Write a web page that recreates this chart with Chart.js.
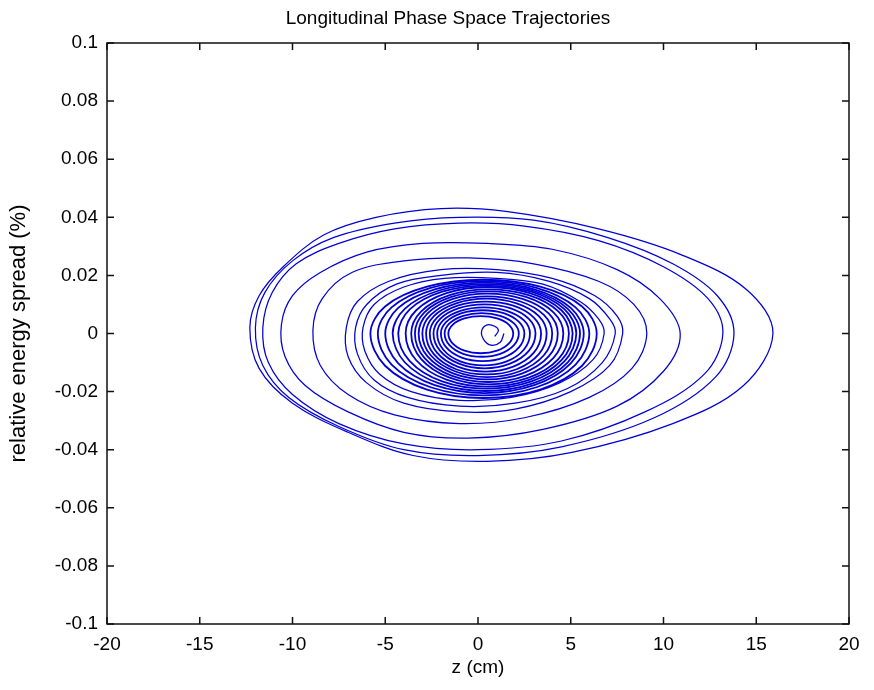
<!DOCTYPE html>
<html lang="en">
<head>
    <meta charset="UTF-8">
    <title>Longitudinal Phase Space Trajectories</title>
    <script src="https://cdn.jsdelivr.net/npm/chart.js"></script>
    <style>
        html, body { margin: 0; padding: 0; background: #fff; }
        #wrap { width: 874px; height: 690px; }
    </style>
</head>
<body>
<div id="wrap"><canvas id="phase"></canvas></div>
<script>
    // Text
    const chartTitle = 'Longitudinal Phase Space Trajectories';
    const xLabel = 'z (cm)';
    const yLabel = 'relative energy spread (%)';

    // Axis ranges and tick steps
    const xRange = [-20, 20];
    const xStep = 5;
    const yRange = [-0.1, 0.1];
    const yStep = 0.02;

    // Trajectory loops, [z (cm), delta (%)], outermost first
    const loop1 = [[15.9, 0.000], [14.3, -0.018], [10.5, -0.031], [5.0, -0.041], [0.5, -0.044], [-3.5, -0.042], [-7.0, -0.034], [-10.0, -0.024], [-11.8, -0.012], [-12.3, 0.002], [-11.8, 0.013], [-10.5, 0.023], [-8.3, 0.034], [-5.5, 0.040], [-2.0, 0.043], [1.5, 0.042], [6.5, 0.036], [11.0, 0.027], [14.5, 0.015]];
    const loop2 = [[13.8, 0.000], [12.8, -0.015], [9.5, -0.029], [4.5, -0.039], [0.0, -0.042], [-4.0, -0.040], [-7.5, -0.032], [-10.2, -0.022], [-11.6, -0.011], [-12.0, 0.002], [-11.5, 0.014], [-10.0, 0.025], [-7.8, 0.033], [-4.5, 0.038], [-1.0, 0.040], [3.0, 0.039], [7.0, 0.033], [10.5, 0.024], [12.9, 0.013]];
    const loop3 = [[13.2, 0.000], [12.2, -0.014], [9.0, -0.027], [4.5, -0.037], [0.0, -0.040], [-4.0, -0.038], [-7.5, -0.031], [-10.0, -0.021], [-11.3, -0.010], [-11.6, 0.002], [-11.1, 0.014], [-9.8, 0.024], [-7.5, 0.031], [-4.5, 0.036], [-1.0, 0.038], [2.5, 0.037], [6.5, 0.032], [10.0, 0.023], [12.4, 0.012]];
    const loop4 = [[10.9, 0.000], [10.0, -0.013], [7.5, -0.025], [3.5, -0.033], [-0.5, -0.036], [-4.0, -0.034], [-7.0, -0.027], [-9.3, -0.018], [-10.4, -0.008], [-10.6, 0.003], [-10.0, 0.013], [-8.5, 0.021], [-6.0, 0.028], [-3.0, 0.031], [0.5, 0.031], [4.0, 0.029], [7.5, 0.022], [9.8, 0.012]];
    const loop5 = [[9.1, 0.000], [8.3, -0.012], [6.0, -0.022], [2.5, -0.029], [-1.0, -0.031], [-4.5, -0.028], [-7.0, -0.021], [-8.5, -0.011], [-8.9, 0.001], [-8.4, 0.012], [-6.8, 0.021], [-4.0, 0.025], [-0.5, 0.026], [3.0, 0.024], [6.5, 0.018], [8.4, 0.010]];
    const loop6 = [[7.8, 0.000], [7.1, -0.011], [5.0, -0.020], [2.0, -0.026], [-1.0, -0.027], [-4.0, -0.024], [-6.0, -0.017], [-7.0, -0.008], [-7.1, 0.002], [-6.5, 0.011], [-4.8, 0.018], [-2.0, 0.022], [1.0, 0.022], [4.0, 0.019], [6.3, 0.013], [7.5, 0.006]];
    const loop7 = [[7.4, 0.000], [6.7, -0.010], [4.8, -0.019], [2.0, -0.024], [-1.0, -0.025], [-3.8, -0.022], [-5.6, -0.016], [-6.5, -0.007], [-6.6, 0.002], [-6.0, 0.010], [-4.4, 0.017], [-2.0, 0.020], [1.0, 0.021], [3.8, 0.018], [6.0, 0.012], [7.1, 0.005]];
    const loop8 = [[6.8, 0.000], [6.2, -0.009], [4.4, -0.017], [1.8, -0.022], [-1.0, -0.023], [-3.6, -0.020], [-5.3, -0.014], [-6.1, -0.006], [-6.2, 0.002], [-5.6, 0.010], [-4.0, 0.016], [-1.8, 0.019], [1.0, 0.019], [3.5, 0.017], [5.5, 0.011], [6.5, 0.005]];

    // the dense inner core
    const inner1 = [[6.4, 0], [5.61, -0.0111], [3.35, -0.0193], [0.3, -0.0222], [-2.75, -0.0193], [-5.01, -0.0111], [-5.8, 0], [-5.01, 0.0093], [-2.75, 0.0161], [0.3, 0.0185], [3.35, 0.0161], [5.61, 0.0093]];
    const inner2 = [[6.0, 0], [5.26, -0.0107], [3.15, -0.0185], [0.3, -0.0213], [-2.55, -0.0185], [-4.66, -0.0107], [-5.4, 0], [-4.66, 0.009], [-2.55, 0.0157], [0.3, 0.018], [3.15, 0.0157], [5.26, 0.009]];
    const inner3 = [[5.7, 0], [5.0, -0.0103], [3.03, -0.0178], [0.35, -0.0205], [-2.33, -0.0178], [-4.3, -0.0103], [-5.0, 0], [-4.3, 0.0088], [-2.33, 0.0152], [0.35, 0.0175], [3.03, 0.0152], [5.0, 0.0088]];
    const inner4 = [[5.5, 0], [4.84, -0.0099], [2.95, -0.0172], [0.4, -0.0198], [-2.1, -0.0172], [-3.95, -0.0099], [-4.6, 0], [-3.95, 0.0085], [-2.1, 0.0148], [0.4, 0.017], [2.95, 0.0148], [4.84, 0.0085]];
    const inner5 = [[5.3, 0], [4.67, -0.0095], [2.88, -0.0165], [0.45, -0.019], [-1.93, -0.0165], [-3.68, -0.0095], [-4.3, 0], [-3.68, 0.0083], [-1.93, 0.0144], [0.45, 0.0165], [2.88, 0.0144], [4.67, 0.0083]];
    const inner6 = [[5.1, 0], [4.5, -0.0092], [2.8, -0.0159], [0.5, -0.0183], [-1.7, -0.0159], [-3.33, -0.0092], [-3.9, 0], [-3.33, 0.008], [-1.7, 0.0139], [0.5, 0.016], [2.8, 0.0139], [4.5, 0.008]];
    const inner7 = [[4.9, 0], [4.33, -0.0088], [2.73, -0.0152], [0.55, -0.0175], [-1.53, -0.0152], [-3.06, -0.0088], [-3.6, 0], [-3.06, 0.0076], [-1.53, 0.0132], [0.55, 0.0152], [2.73, 0.0132], [4.33, 0.0076]];
    const inner8 = [[4.6, 0], [4.07, -0.0084], [2.58, -0.0145], [0.55, -0.0167], [-1.43, -0.0145], [-2.89, -0.0084], [-3.4, 0], [-2.89, 0.0073], [-1.43, 0.0126], [0.55, 0.0145], [2.58, 0.0126], [4.07, 0.0073]];
    const inner9 = [[4.3, 0], [3.81, -0.0079], [2.4, -0.0137], [0.5, -0.0158], [-1.35, -0.0137], [-2.72, -0.0079], [-3.2, 0], [-2.72, 0.0069], [-1.35, 0.0119], [0.5, 0.0137], [2.4, 0.0119], [3.81, 0.0069]];
    const inner10 = [[4.0, 0], [3.55, -0.0075], [2.25, -0.013], [0.5, -0.015], [-1.25, -0.013], [-2.55, -0.0075], [-3.0, 0], [-2.55, 0.0064], [-1.25, 0.0111], [0.5, 0.0128], [2.25, 0.0111], [3.55, 0.0064]];
    const inner11 = [[3.7, 0], [3.28, -0.0071], [2.08, -0.0123], [0.45, -0.0141], [-1.18, -0.0123], [-2.38, -0.0071], [-2.8, 0], [-2.38, 0.006], [-1.18, 0.0104], [0.45, 0.012], [2.08, 0.0104], [3.28, 0.006]];
    const inner12 = [[3.4, 0], [3.01, -0.0066], [1.9, -0.0114], [0.4, -0.0131], [-1.1, -0.0114], [-2.21, -0.0066], [-2.6, 0], [-2.21, 0.0055], [-1.1, 0.0096], [0.4, 0.011], [1.9, 0.0096], [3.01, 0.0055]];
    const inner13 = [[3.1, 0], [2.74, -0.006], [1.73, -0.0104], [0.35, -0.012], [-1.03, -0.0104], [-2.04, -0.006], [-2.4, 0], [-2.04, 0.005], [-1.03, 0.0087], [0.35, 0.01], [1.73, 0.0087], [2.74, 0.005]];
    const inner14 = [[2.8, 0], [2.48, -0.0055], [1.55, -0.0096], [0.3, -0.011], [-0.95, -0.0096], [-1.88, -0.0055], [-2.2, 0], [-1.88, 0.0045], [-0.95, 0.0078], [0.3, 0.009], [1.55, 0.0078], [2.48, 0.0045]];
    const inner15 = [[2.5, 0], [2.21, -0.0048], [1.38, -0.0083], [0.25, -0.0095], [-0.88, -0.0083], [-1.71, -0.0048], [-2.0, 0], [-1.71, 0.004], [-0.88, 0.007], [0.25, 0.008], [1.38, 0.007], [2.21, 0.004]];
    const inner16 = [[2.2, 0], [1.94, -0.004], [1.2, -0.007], [0.2, -0.008], [-0.8, -0.007], [-1.54, -0.004], [-1.8, 0], [-1.54, 0.0035], [-0.8, 0.0061], [0.2, 0.007], [1.2, 0.0061], [1.94, 0.0035]];
    const inner17 = [[1.9, 0], [1.67, -0.0034], [1.03, -0.0059], [0.15, -0.0068], [-0.73, -0.0059], [-1.37, -0.0034], [-1.6, 0], [-1.37, 0.003], [-0.73, 0.0052], [0.15, 0.006], [1.03, 0.0052], [1.67, 0.003]];
    const core = [[1.4, 0.000], [1.2, -0.003], [0.7, -0.004], [0.3, -0.002], [0.2, 0.001], [0.5, 0.003], [0.9, 0.0025], [1.1, 0.001], [0.9, -0.001]];

    const outerLoops = [loop1, loop2, loop3, loop4, loop5, loop6, loop7, loop8];
    const innerLoops = [inner1, inner2, inner3, inner4, inner5, inner6, inner7, inner8, inner9,
                        inner10, inner11, inner12, inner13, inner14, inner15, inner16, inner17];

    function toPoints(arr) {
        return arr.map(function(p) { return {x: p[0], y: p[1]}; });
    }

    function loopDataset(arr, width, closed) {
        return {
            data: toPoints(arr),
            closed: closed,
            showLine: true,
            spanGaps: true,
            borderColor: 'rgb(0, 0, 215)',
            borderWidth: width,
            pointRadius: 0,
            tension: 0.35,
            fill: false
        };
    }

    const datasets = [];
    outerLoops.forEach(function(l) { datasets.push(loopDataset(l, 1.25, true)); });
    innerLoops.forEach(function(l) { datasets.push(loopDataset(l, 1.8, true)); });
    datasets.push(loopDataset(core, 1.25, false));

    // let the line element join the last point back to the first, smoothly
    const closeLoops = {
        id: 'closeLoops',
        afterDatasetUpdate(chart, args) {
            const ds = chart.data.datasets[args.index];
            if (ds.closed && args.meta.dataset) {
                args.meta.dataset._loop = true;
                args.meta.dataset._fullLoop = true;
            }
        }
    };

    const fontFamily = '"Liberation Sans", Arial, Helvetica, sans-serif';

    // box round the axes and inward ticks on all four sides (MATLAB look)
    const framePlugin = {
        id: 'frame',
        afterDraw(chart) {
            const ctx = chart.ctx;
            const a = chart.chartArea;
            const xs = chart.scales.x;
            const ys = chart.scales.y;
            const tl = 7;
            ctx.save();
            ctx.strokeStyle = '#111';
            ctx.lineWidth = 1.5;
            ctx.strokeRect(a.left, a.top, a.right - a.left, a.bottom - a.top);
            ctx.beginPath();
            xs.ticks.forEach(function(t) {
                const px = xs.getPixelForValue(t.value);
                ctx.moveTo(px, a.bottom);
                ctx.lineTo(px, a.bottom - tl);
                ctx.moveTo(px, a.top);
                ctx.lineTo(px, a.top + tl);
            });
            ys.ticks.forEach(function(t) {
                const py = ys.getPixelForValue(t.value);
                ctx.moveTo(a.left, py);
                ctx.lineTo(a.left + tl, py);
                ctx.moveTo(a.right, py);
                ctx.lineTo(a.right - tl, py);
            });
            ctx.stroke();

            // title above the axes
            ctx.fillStyle = '#000';
            ctx.font = '19px ' + fontFamily;
            ctx.textAlign = 'center';
            ctx.textBaseline = 'middle';
            ctx.fillText(chartTitle, 448, 19);
            ctx.restore();
        }
    };

    const ctxPhase = document.getElementById('phase').getContext('2d');
    const phaseChart = new Chart(ctxPhase, {
        type: 'scatter',
        data: {datasets: datasets},
        options: {
            responsive: true,
            maintainAspectRatio: false,
            animation: false,
            layout: {
                padding: {top: 43, right: 25, left: 0, bottom: 0}
            },
            plugins: {
                legend: {display: false},
                tooltip: {enabled: false},
                title: {display: false}
            },
            scales: {
                x: {
                    type: 'linear',
                    min: xRange[0],
                    max: xRange[1],
                    grid: {display: false, drawTicks: false, tickLength: 0},
                    border: {display: false},
                    ticks: {
                        stepSize: xStep,
                        padding: 9,
                        color: '#000',
                        font: {family: fontFamily, size: 19},
                        maxRotation: 0
                    },
                    title: {
                        display: true,
                        text: xLabel,
                        color: '#000',
                        font: {family: fontFamily, size: 19},
                        padding: {top: 0, bottom: 11}
                    },
                    afterFit: function(scale) { scale.height = 66; }
                },
                y: {
                    type: 'linear',
                    min: yRange[0],
                    max: yRange[1],
                    grid: {display: false, drawTicks: false, tickLength: 0},
                    border: {display: false},
                    ticks: {
                        stepSize: yStep,
                        padding: 9,
                        color: '#000',
                        font: {family: fontFamily, size: 19},
                        callback: function(v) { return String(Math.round(v * 100) / 100); }
                    },
                    title: {
                        display: true,
                        text: yLabel,
                        color: '#000',
                        font: {family: fontFamily, size: 22},
                        padding: {top: 6, bottom: 0}
                    },
                    afterFit: function(scale) { scale.width = 107; }
                }
            }
        },
        plugins: [closeLoops, framePlugin]
    });
</script>
</body>
</html>
